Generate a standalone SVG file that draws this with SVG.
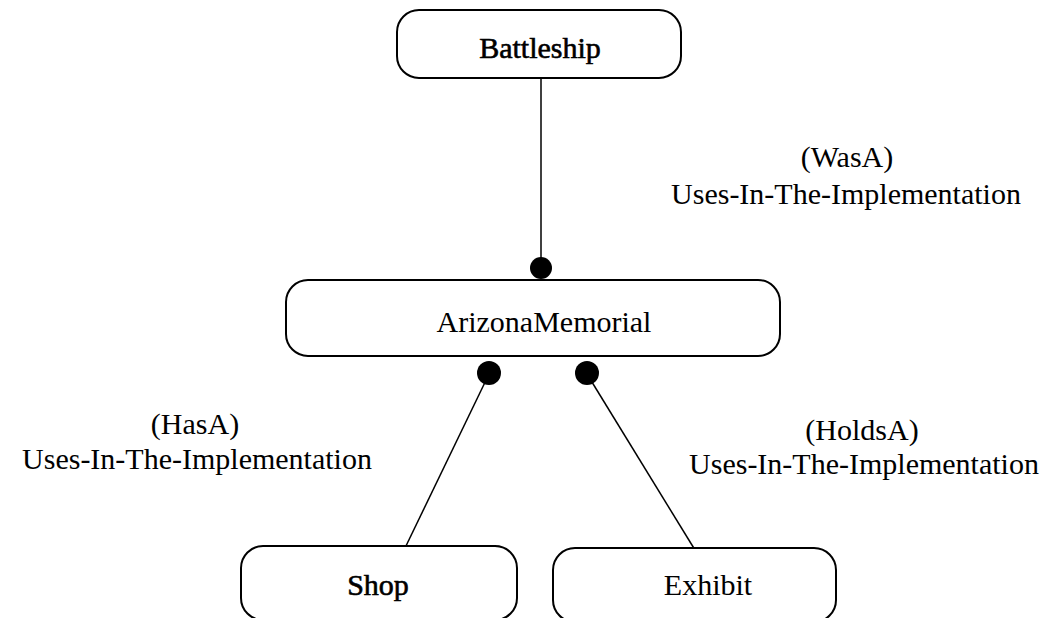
<svg xmlns="http://www.w3.org/2000/svg" width="1046" height="618" viewBox="0 0 1046 618">
  <style>
    .node { fill: #fff; stroke: #000; stroke-width: 2; }
    .lbl { font-family: "Liberation Serif", "DejaVu Serif", "Times New Roman", serif; font-size: 30px; fill: #000; text-anchor: middle; }
    .heavy { stroke: #000; stroke-width: 0.6; }
    .edge { stroke: #000; stroke-width: 1.5; fill: none; }
    .dot { fill: #000; }
  </style>
  <rect width="1046" height="618" fill="#fff"/>
  <g id="connectors">
    <line class="edge" x1="541" y1="78" x2="541" y2="267"/>
    <circle class="dot" cx="541" cy="268" r="11"/>
    <line class="edge" x1="489" y1="374" x2="405" y2="548"/>
    <circle class="dot" cx="489" cy="373" r="12"/>
    <line class="edge" x1="587" y1="374" x2="695" y2="550"/>
    <circle class="dot" cx="587" cy="373" r="12"/>
    <text class="lbl" x="847" y="167">(WasA)</text>
    <text class="lbl" x="846" y="204">Uses-In-The-Implementation</text>
    <text class="lbl" x="195" y="434">(HasA)</text>
    <text class="lbl" x="197" y="469">Uses-In-The-Implementation</text>
    <text class="lbl" x="862" y="440">(HoldsA)</text>
    <text class="lbl" x="864" y="474">Uses-In-The-Implementation</text>
  </g>
  <g id="battleship">
    <rect class="node" x="397" y="10" width="284" height="68" rx="22"/>
    <text class="lbl heavy" x="540" y="58">Battleship</text>
  </g>
  <g id="arizona-memorial">
    <rect class="node" x="286" y="280" width="494" height="76" rx="22"/>
    <text class="lbl" x="544" y="332">ArizonaMemorial</text>
  </g>
  <g id="shop">
    <rect class="node" x="241" y="546" width="276" height="74" rx="22"/>
    <text class="lbl heavy" x="378" y="595">Shop</text>
  </g>
  <g id="exhibit">
    <rect class="node" x="553" y="548" width="283" height="74" rx="22"/>
    <text class="lbl" x="708" y="595">Exhibit</text>
  </g>
</svg>
